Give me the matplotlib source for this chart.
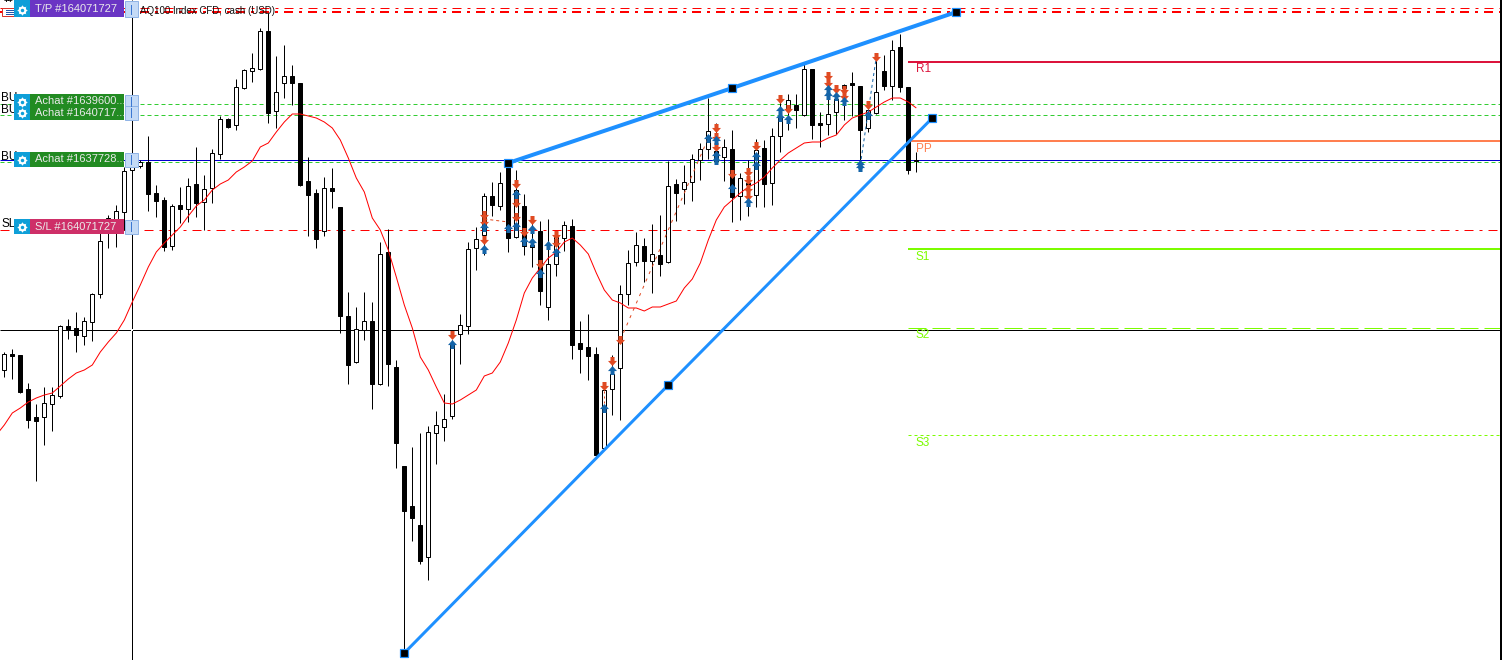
import matplotlib
matplotlib.use('Agg')
import matplotlib.pyplot as plt
from matplotlib.patches import Rectangle
from matplotlib.path import Path

candle_top = [354, 354, 355, 389, 417, 403, 395, 326, 326, 328, 321, 294, 241, 218, 211, 171, 167, 162, 162, 193,
              200, 206, 205, 186, 184, 189, 153, 119, 119, 87, 70, 68, 31, 31, 92, 76, 76, 83, 181, 193,
              188, 188, 207, 316, 329, 321, 321, 254, 252, 367, 466, 506, 525, 432, 425, 419, 345, 325, 249, 239,
              196, 196, 183, 163, 190, 206, 245, 231, 264, 235, 225, 226, 343, 347, 354, 390, 374, 294, 263, 245,
              246, 254, 255, 186, 184, 182, 159, 149, 131, 151, 147, 149, 178, 183, 150, 148, 136, 117, 100, 105,
              69, 69, 123, 114, 99, 85, 83, 86, 110, 92, 71, 50, 47, 87, 160]
candle_bottom = [370, 356, 392, 420, 421, 417, 404, 396, 329, 335, 336, 322, 294, 231, 222, 212, 170, 166, 194, 201,
                 247, 246, 209, 209, 203, 202, 188, 154, 127, 125, 88, 71, 69, 113, 111, 83, 83, 185, 195, 239,
                 231, 191, 316, 365, 362, 330, 384, 384, 364, 443, 511, 518, 561, 557, 433, 427, 416, 334, 326, 248,
                 235, 205, 206, 238, 237, 246, 247, 291, 307, 264, 238, 345, 349, 356, 455, 448, 389, 368, 294, 262,
                 261, 261, 264, 262, 193, 189, 182, 160, 149, 161, 157, 197, 196, 185, 195, 184, 183, 136, 108, 110,
                 115, 125, 125, 124, 112, 88, 85, 130, 128, 113, 86, 86, 87, 170, 161]
candle_high = [352, 349, 355, 383, 404, 387, 387, 325, 319, 312, 317, 293, 232, 215, 205, 167, 160, 160, 136, 185,
               197, 204, 187, 178, 147, 175, 149, 116, 118, 79, 69, 53, 28, 13, 56, 45, 65, 83, 157, 189,
               177, 168, 207, 292, 307, 292, 302, 242, 229, 360, 466, 447, 433, 426, 411, 394, 340, 314, 242, 227,
               193, 182, 172, 163, 170, 194, 220, 221, 219, 233, 221, 219, 321, 314, 347, 385, 355, 285, 250, 232,
               238, 224, 215, 161, 179, 165, 154, 143, 98, 123, 139, 130, 173, 160, 139, 140, 128, 95, 94, 94,
               63, 69, 112, 80, 86, 84, 72, 86, 102, 55, 55, 40, 34, 87, 152]
candle_low = [377, 379, 393, 428, 481, 445, 431, 398, 339, 352, 345, 341, 298, 248, 247, 230, 232, 168, 211, 217,
              251, 250, 223, 222, 217, 230, 203, 159, 128, 130, 89, 82, 70, 123, 128, 98, 105, 186, 236, 248,
              236, 208, 333, 384, 363, 340, 409, 385, 386, 468, 650, 541, 564, 580, 464, 441, 419, 364, 334, 270,
              255, 216, 210, 252, 238, 255, 267, 305, 320, 276, 251, 359, 373, 380, 457, 449, 415, 420, 305, 266,
              282, 293, 276, 263, 221, 204, 201, 180, 159, 162, 181, 222, 220, 216, 207, 207, 205, 152, 130, 128,
              116, 139, 147, 135, 134, 120, 116, 160, 132, 114, 90, 100, 92, 174, 172]
candle_is_up = [1, 0, 0, 0, 0, 1, 1, 1, 0, 0, 1, 1, 1, 1, 1, 1, 1, 1, 0, 0,
                0, 1, 0, 1, 0, 1, 1, 1, 0, 1, 1, 1, 1, 0, 1, 1, 0, 0, 0, 0,
                1, 0, 0, 0, 1, 1, 0, 1, 0, 0, 0, 0, 0, 1, 1, 1, 1, 1, 1, 1,
                1, 0, 1, 0, 1, 0, 0, 0, 1, 1, 1, 0, 0, 0, 0, 1, 1, 1, 1, 1,
                0, 1, 0, 1, 0, 1, 1, 1, 1, 0, 1, 0, 1, 0, 1, 0, 1, 1, 1, 0,
                1, 0, 0, 1, 1, 1, 0, 0, 1, 1, 0, 1, 0, 0, 0]

# moving average, one value per bar starting one bar before the first candle
ma_values = [435, 425, 413, 408, 402, 398, 395, 393, 386, 379, 373, 370, 365, 352, 342, 333, 320, 302, 285, 267,
             252, 243, 235, 227, 216, 206, 200, 190, 184, 180, 172, 167, 161, 147, 143, 132, 122, 114, 114, 116,
             118, 122, 128, 140, 158, 178, 192, 218, 230, 250, 277, 305, 328, 357, 370, 387, 403, 404, 400, 395,
             390, 376, 373, 362, 343, 320, 293, 278, 268, 258, 252, 242, 238, 245, 254, 273, 290, 300, 303, 308,
             308, 311, 307, 307, 304, 301, 288, 279, 263, 240, 220, 207, 200, 193, 187, 183, 177, 168, 160, 153,
             148, 143, 142, 142, 138, 135, 125, 118, 115, 112, 107, 102, 98, 98, 102, 108]

sell_bars = [56, 60, 60, 60, 64, 64, 64, 65, 66, 67, 69, 69, 75, 76, 77, 89, 89, 89, 91, 93, 93, 93, 93, 94,
             97, 98, 103, 103, 104, 105, 105, 108, 109]
sell_prices = [335, 215, 222, 240, 184, 203, 217, 232, 220, 264, 235, 243, 386, 361, 340, 128, 137, 147, 174,
               172, 180, 189, 196, 146, 99, 109, 76, 83, 89, 90, 96, 105, 57]
buy_bars = [56, 60, 60, 63, 64, 64, 65, 66, 66, 67, 68, 69, 75, 76, 88, 89, 89, 89, 91, 93, 94, 94,
            97, 97, 98, 103, 103, 104, 105, 107, 107, 108]
buy_prices = [344, 227, 249, 228, 194, 226, 241, 229, 242, 273, 245, 252, 408, 370, 138, 140, 155, 160, 188,
              202, 156, 165, 110, 117, 119, 89, 95, 96, 101, 164, 167, 115]

upper_trend_bars = [63, 91, 119]
upper_trend_prices = [163, 88, 12]
lower_trend_bars = [50, 83, 116]
lower_trend_prices = [653, 385, 118]

pivot_names = ['R1', 'PP', 'S1', 'S2', 'S3']
pivot_levels = [62, 141, 249, 328, 435]
pivot_colors = ['#DC143C', '#FF7F50', '#7CFC00', '#7CFC00', '#7CFC00']

order_names = ['T/P #164071727', 'Achat #1639600...', 'Achat #1640717...', 'Achat #1637728...', 'S/L #164071727']
order_tops = [0, 94, 105, 152, 219]
order_heights = [17, 15, 15, 15, 15]
order_colors = ['#6A35C4', '#228B22', '#228B22', '#228B22', '#CE2F68']
side_names = ['BU', 'BU', 'BU', 'SL']
side_y = [98, 110, 157, 224]

PX = 0.72  # one screen pixel in points at dpi 100
plt.rcParams['font.family'] = ['Liberation Sans', 'DejaVu Sans']
plt.rcParams['lines.scale_dashes'] = False


def dash(*pixels):
    return (0, tuple(p * PX for p in pixels))


def line(x, y, color, width=1, style='-', z=2):
    ax.plot(x, y, color=color, lw=width * PX, ls=style,
            dash_capstyle='butt', solid_capstyle='butt', zorder=z)


fig = plt.figure(figsize=(15.02, 6.6), dpi=100, facecolor='white')
ax = fig.add_axes([0, 0, 1, 1])
ax.set_xlim(-4.3 / 8, (1502 - 4.3) / 8)
ax.set_ylim(660, 0)
ax.axis('off')
last_bar = ax.get_xlim()[1]
first_bar = ax.get_xlim()[0]

# trade levels
DASH_DOT = dash(9, 6, 3, 6)
line([first_bar, last_bar], [8, 8], '#FF0000', 1, (4 * PX, DASH_DOT[1]))
line([first_bar, last_bar], [12, 12], '#FF0000', 2, (4 * PX, DASH_DOT[1]))
line([first_bar, last_bar], [230, 230], '#FF0000', 1, DASH_DOT)
for level in [104, 115, 162]:
    line([first_bar, last_bar], [level, level], '#32CD32', 1, dash(4, 3))
line([first_bar, last_bar], [160, 160], '#0000CD', 1)

# crosshair
line([first_bar, last_bar], [330, 330], 'black', 1)
line([16, 16], [0, 660], 'black', 1)
ax.plot([16], [330], 's', ms=2, color='white', mew=0, zorder=3)

# pivots
pivot_start = 113
pivot_styles = ['-', '-', '-', dash(18, 6), dash(3, 3)]
pivot_widths = [2, 2, 2, 1, 1]
for name, level, color, style, width in zip(pivot_names, pivot_levels, pivot_colors, pivot_styles, pivot_widths):
    line([pivot_start, last_bar], [level, level], color, width, style, z=2)
    ax.text(pivot_start + 0.95, level + 7.5, name, color=color, fontsize=8.5, va='center', ha='left', zorder=3)

# candles
bars = list(range(len(candle_top)))
ax.vlines(bars, candle_high, candle_low, color='black', lw=PX, zorder=4)
heights = [b - t for t, b in zip(candle_top, candle_bottom)]
faces = ['white' if up else 'black' for up in candle_is_up]
ax.bar(bars, heights, bottom=candle_top, width=0.5, color=faces, edgecolor='black', linewidth=PX, zorder=5)

# moving average
line([b - 1 for b in range(len(ma_values))], ma_values, '#FF0000', 1, z=6)

# trade connectors
line([77, 88], [340, 138], '#E04A22', 1, dash(3, 5), z=6)
line([60, 63], [219, 222], '#E04A22', 1, dash(3, 3), z=6)
line([107, 109], [165, 57], '#1464A8', 1, dash(3, 3), z=6)
line([75, 75], [386, 408], '#E04A22', 1, dash(2, 3), z=6)
line([76, 76], [361, 370], '#E04A22', 1, dash(2, 3), z=6)

# deal arrows
UP_ARROW = Path([(-4, -0.5), (0, 4), (4, -0.5), (1.8, -0.5), (1.8, -4), (-1.8, -4), (-1.8, -0.5), (-4, -0.5)],
                closed=True)
DOWN_ARROW = Path([(-4, 0.5), (0, -4), (4, 0.5), (1.8, 0.5), (1.8, 4), (-1.8, 4), (-1.8, 0.5), (-4, 0.5)],
                  closed=True)
ax.plot(sell_bars, sell_prices, ls='', marker=DOWN_ARROW, ms=9 * PX, color='#E04A22', mew=0, zorder=7)
ax.plot(buy_bars, buy_prices, ls='', marker=UP_ARROW, ms=9 * PX, color='#1464A8', mew=0, zorder=7)

# trend lines with their handles
for trend_x, trend_y, trend_width in [(upper_trend_bars, upper_trend_prices, 4), (lower_trend_bars, lower_trend_prices, 3)]:
    ax.plot(trend_x, trend_y, color='#1E90FF', lw=trend_width * PX, zorder=8)
    ax.plot(trend_x, trend_y, ls='', marker='s', ms=8 * PX, mfc='black', mec='#1E90FF', mew=1.2 * PX, zorder=9)

# chart furniture in screen pixels
ui = fig.add_axes([0, 0, 1, 1])
ui.set_xlim(0, 1502)
ui.set_ylim(660, 0)
ui.axis('off')
ui.patch.set_alpha(0)

ui.plot([1501, 1501], [0, 660], color='black', lw=2 * PX)
ui.text(140, 10.5, 'AQ100 Index CFD, cash (USD)', fontsize=7, va='center', ha='left', color='#111111', zorder=2)

# small table icon, top left
ui.add_patch(Rectangle((1.5, 7.5), 12, 8, fc='white', ec='#D9342B', lw=PX))
for row in [9.5, 11.5, 13.5]:
    ui.plot([6, 14], [row, row], color='#2255AA', lw=PX)
ui.text(8, 2, '++', fontsize=6, fontweight='bold', ha='center', va='center', color='black')

for name, y in zip(side_names, side_y):
    ui.text(1, y, name, fontsize=8.5, ha='left', va='center', color='black', zorder=2)

for name, top, height, color in zip(order_names, order_tops, order_heights, order_colors):
    middle = top + height - 7.5
    ui.add_patch(Rectangle((14, top), 16, height, fc='#0E9FD8', ec='none', zorder=3))
    ui.add_patch(Rectangle((30, top), 94, height, fc=color, ec='none', zorder=3))
    ui.add_patch(Rectangle((124.5, top + 0.5), 13, height - 1, fc='#C4DAF6', ec='#90B4E6', lw=PX, zorder=3))
    ui.plot([131, 131], [middle - 4.5, middle + 4.5], color='#3C78D2', lw=PX, zorder=4)
    # gear icon
    ui.plot([22], [middle], marker=(8, 1, 0), ms=11 * PX, color='white', mew=0, zorder=4)
    ui.plot([22], [middle], marker='o', ms=8 * PX, color='white', mew=0, zorder=4)
    ui.plot([22], [middle], marker='o', ms=3.5 * PX, color='#0E9FD8', mew=0, zorder=5)
    ui.text(35, middle, name, fontsize=8, color='#EAEAEA', ha='left', va='center', zorder=4)

fig.savefig('out.png', dpi=100, facecolor='white')
